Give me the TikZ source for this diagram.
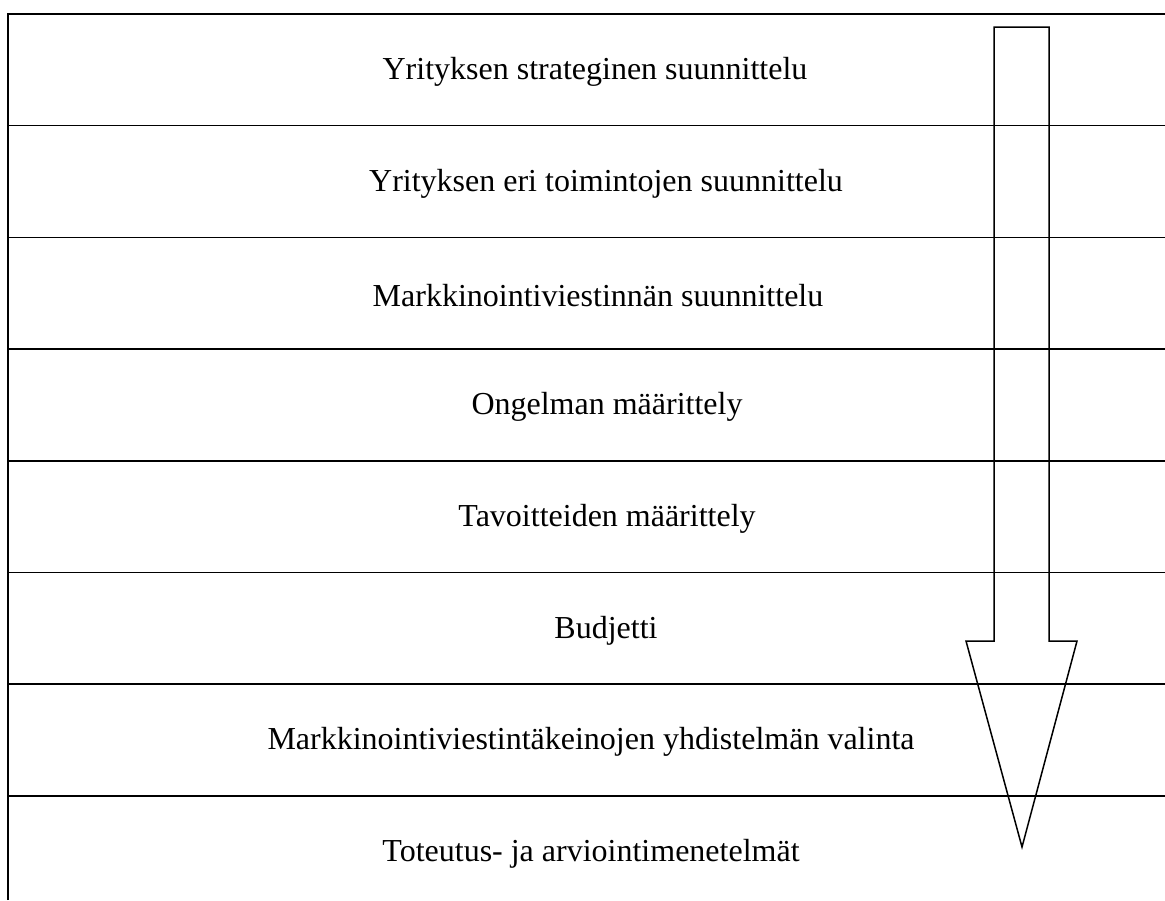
\documentclass[tikz,border=0pt]{standalone}
\usepackage{fontspec}
\setmainfont{Liberation Serif}
\usetikzlibrary{positioning}

\begin{document}
\begin{tikzpicture}[
    x=0.5pt, y=-0.5pt,
    rowtext/.style={font=\fontsize{16}{19}\selectfont, inner sep=0pt},
    sep/.style={line width=0.75pt},
    bigarr/.style={line width=0.75pt, line join=miter}
]
\useasboundingbox (0,0) rectangle (1165,900);

% rivit
\node[rowtext] (strat) at (595,72) {Yrityksen strateginen suunnittelu};
\node[rowtext] (toim) at (606,184) {Yrityksen eri toimintojen suunnittelu};
\node[rowtext] (viest) at (598,296) {Markkinointiviestinnän suunnittelu};
\node[rowtext] (ong) at (607,407) {Ongelman määrittely};
\node[rowtext] (tav) at (607,519) {Tavoitteiden määrittely};
\node[rowtext] (bud) at (606,631) {Budjetti};
\node[rowtext] (valinta) at (591,742) {Markkinointiviestintäkeinojen yhdistelmän valinta};
\node[rowtext] (toteutus) at (591,854) {Toteutus- ja arviointimenetelmät};

% viivat
\draw[sep] (8,900) -- (8,14) -- (1165,14);
\foreach \y in {125.7,237.4,349,460.8,572.5,684.2,796}
    \draw[sep] (8,\y) -- (1165,\y);

% nuoli
\draw[bigarr] (994,27) -- (1049,27) -- (1049,641) -- (1077,641) -- (1022,847)
    -- (966,641) -- (994,641) -- cycle;
\end{tikzpicture}
\end{document}
